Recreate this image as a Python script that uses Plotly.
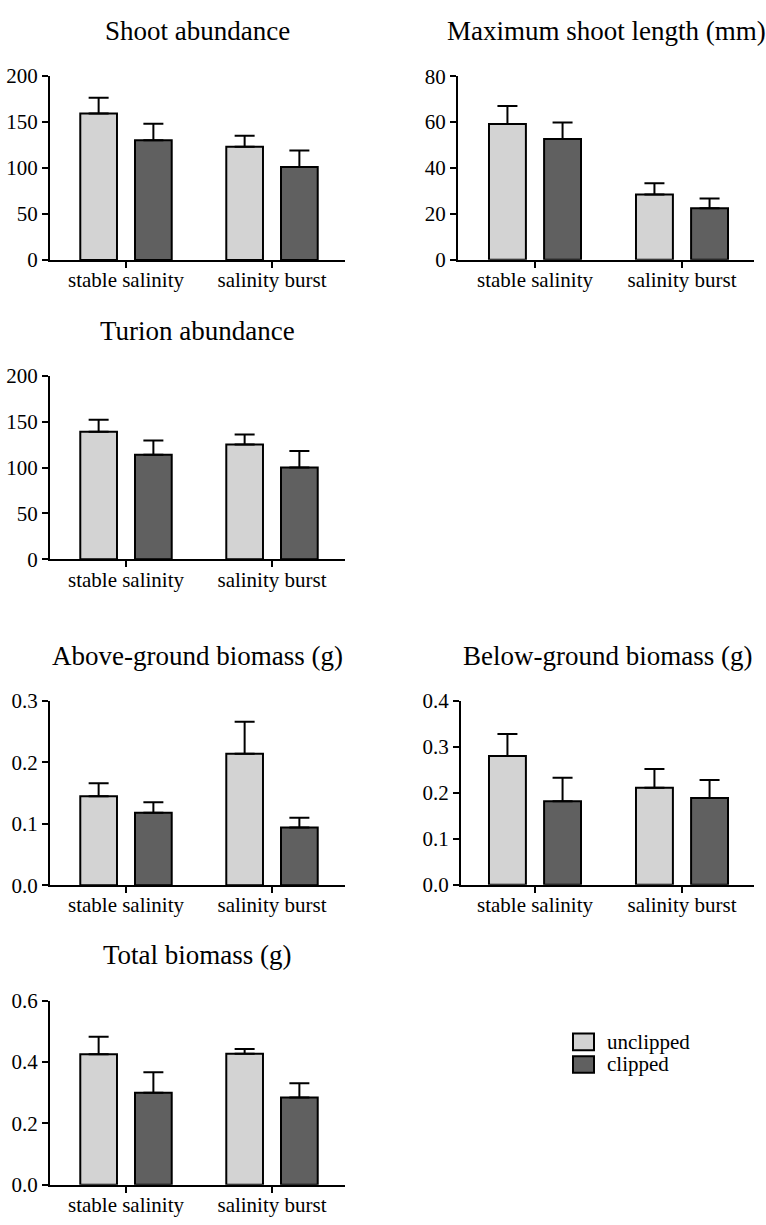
import plotly.graph_objects as go

W, H = 766, 1225

categories = ["stable salinity", "salinity burst"]
series_names = ["unclipped", "clipped"]
series_colors = ["#d3d3d3", "#606060"]

titles = [
    "Shoot abundance",
    "Maximum shoot length (mm)",
    "Turion abundance",
    "Above-ground biomass (g)",
    "Below-ground biomass (g)",
    "Total biomass (g)",
]

# mean values per panel: [unclipped], [clipped]
shoot_unclipped = [159, 123]
shoot_clipped = [130, 101]
shoot_unclipped_err = [17, 12]
shoot_clipped_err = [18, 18]

length_unclipped = [59.2, 28.4]
length_clipped = [52.6, 22.5]
length_unclipped_err = [7.8, 5.0]
length_clipped_err = [7.2, 4.2]

turion_unclipped = [139, 125]
turion_clipped = [114, 100]
turion_unclipped_err = [13, 11]
turion_clipped_err = [15.5, 18]

above_unclipped = [0.145, 0.214]
above_clipped = [0.118, 0.094]
above_unclipped_err = [0.021, 0.052]
above_clipped_err = [0.017, 0.016]

below_unclipped = [0.280, 0.211]
below_clipped = [0.182, 0.189]
below_unclipped_err = [0.048, 0.041]
below_clipped_err = [0.051, 0.039]

total_unclipped = [0.425, 0.427]
total_clipped = [0.300, 0.284]
total_unclipped_err = [0.057, 0.015]
total_clipped_err = [0.067, 0.047]

y_ranges = [200, 80, 200, 0.3, 0.4, 0.6]
y_dticks = [50, 20, 50, 0.1, 0.1, 0.2]
y_formats = ["d", "d", "d", ".1f", ".1f", ".1f"]

panel_data = [
    (shoot_unclipped, shoot_clipped, shoot_unclipped_err, shoot_clipped_err),
    (length_unclipped, length_clipped, length_unclipped_err, length_clipped_err),
    (turion_unclipped, turion_clipped, turion_unclipped_err, turion_clipped_err),
    (above_unclipped, above_clipped, above_unclipped_err, above_clipped_err),
    (below_unclipped, below_clipped, below_unclipped_err, below_clipped_err),
    (total_unclipped, total_clipped, total_unclipped_err, total_clipped_err),
]

# plot-area boxes in pixels (x0, x1, ytop, ybottom)
boxes = [
    (50, 345, 65, 253),
    (458, 754, 65.5, 252.7),
    (50, 345, 371, 558.3),
    (50, 345, 702.7, 890.7),
    (461, 754, 702.7, 890.3),
    (50, 345, 1008.3, 1196.3),
]
cat_px = [(126, 272), (535, 682), (126, 272), (126, 272), (535, 682), (126, 272)]

FONT = "Liberation Serif, Times New Roman, serif"
TICK_SIZE = 21
TITLE_SIZE = 27

fig = go.Figure()
layout = dict(
    width=W, height=H, autosize=False,
    margin=dict(l=0, r=0, t=0, b=0),
    paper_bgcolor="white", plot_bgcolor="white",
    showlegend=False,
    barmode="group", bargap=0.25, bargroupgap=0.33,
    font=dict(family=FONT, size=TICK_SIZE, color="black"),
)
annotations = []
shapes = []

for i, (box, data) in enumerate(zip(boxes, panel_data)):
    n = i + 1
    xa = "x" if n == 1 else f"x{n}"
    ya = "y" if n == 1 else f"y{n}"
    x0, x1, yt, yb = box
    c0, c1 = cat_px[i]
    unit = c1 - c0
    xr = [-(c0 - x0) / unit, 1 + (x1 - c1) / unit]
    means = [data[0], data[1]]
    errs = [data[2], data[3]]
    for s in range(2):
        fig.add_trace(go.Bar(
            x=categories, y=means[s], name=series_names[s],
            xaxis=xa, yaxis=ya,
            marker=dict(color=series_colors[s], line=dict(color="black", width=2)),
            error_y=dict(type="data", symmetric=False, array=errs[s],
                         arrayminus=[0] * len(errs[s]),
                         color="black", thickness=2, width=10),
            showlegend=False, hoverinfo="skip",
        ))
    layout[f"xaxis{n}"] = dict(
        domain=[x0 / W, x1 / W], anchor=ya, range=xr,
        showline=True, linecolor="black", linewidth=2,
        ticks="outside", ticklen=6, tickwidth=2, tickcolor="black",
        ticklabelstandoff=-6,
        showgrid=False, zeroline=False, fixedrange=True,
        tickfont=dict(family=FONT, size=TICK_SIZE, color="black"),
    )
    layout[f"yaxis{n}"] = dict(
        domain=[1 - yb / H, 1 - yt / H], anchor=xa, range=[0, y_ranges[i]],
        dtick=y_dticks[i], tick0=0, tickformat=y_formats[i],
        showline=True, linecolor="black", linewidth=2,
        ticks="outside", ticklen=6, tickwidth=2, tickcolor="black",
        showgrid=False, zeroline=False, fixedrange=True,
        tickfont=dict(family=FONT, size=TICK_SIZE, color="black"),
    )
    annotations.append(dict(
        text=titles[i], xref="paper", yref="paper",
        x=((x0 + x1) / 2) / W, y=1 - (yt - 46) / H,
        xanchor="center", yanchor="middle", showarrow=False,
        font=dict(family=FONT, size=TITLE_SIZE, color="black"),
    ))

# manual legend
legend_boxes = [(573, 594, 1042, 1059), (573, 594, 1065, 1082)]
for s, (lx0, lx1, ly0, ly1) in enumerate(legend_boxes):
    shapes.append(dict(
        type="rect", xref="paper", yref="paper",
        x0=lx0 / W, x1=lx1 / W, y0=1 - ly1 / H, y1=1 - ly0 / H,
        fillcolor=series_colors[s], line=dict(color="black", width=2),
    ))
    annotations.append(dict(
        text=series_names[s], xref="paper", yref="paper",
        x=605 / W, y=1 - ((ly0 + ly1) / 2) / H,
        xanchor="left", yanchor="middle", showarrow=False,
        font=dict(family=FONT, size=TICK_SIZE, color="black"),
    ))

layout["annotations"] = annotations
layout["shapes"] = shapes
fig.update_layout(**layout)
fig.write_html(
    "out.html",
    config={"displayModeBar": False, "staticPlot": True},
    post_script="document.body.style.margin='0';document.body.style.padding='0';document.body.style.overflow='hidden';",
)
